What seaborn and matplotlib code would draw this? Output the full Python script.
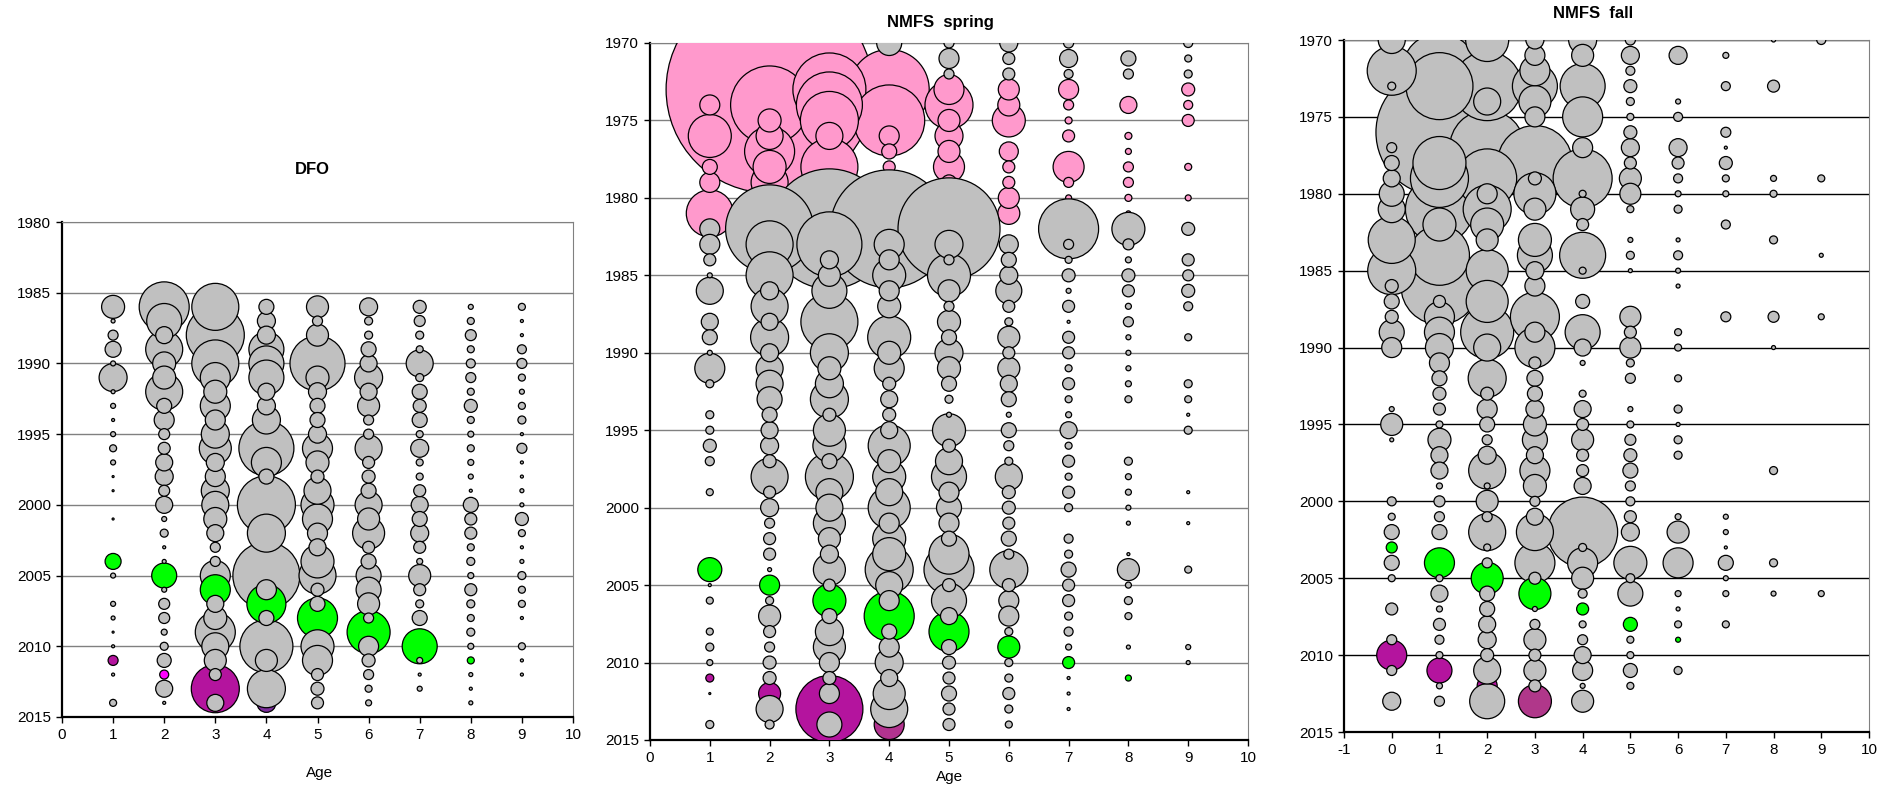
import numpy as np
import pandas as pd
import matplotlib
matplotlib.use("Agg")
import matplotlib.pyplot as plt
import seaborn as sns

# --------------------------------------------------
# Data: abundance index per age (bubble width), one value per survey year
# --------------------------------------------------

dfo_years = list(range(1986, 2015))
dfo_index = {
    1: [23, 4, 10, 16, 5, 28, 4, 5, 3, 5, 7, 5, 2, 2, 0, 2, 0, 0, 16, 5, 0, 5, 4, 2, 3, 10, 3, 0, 7],
    2: [50, 35, 17, 37, 23, 23, 37, 15, 20, 11, 12, 17, 18, 11, 17, 5, 8, 3, 4, 25, 5, 11, 11, 6, 8, 14, 9, 17, 3],
    3: [47, 0, 58, 0, 47, 30, 23, 30, 20, 28, 32, 18, 20, 28, 27, 23, 17, 10, 10, 30, 30, 17, 23, 40, 27, 22, 12, 48, 17],
    4: [15, 18, 18, 35, 35, 35, 17, 18, 28, 0, 55, 30, 15, 0, 58, 0, 38, 0, 0, 67, 20, 39, 15, 0, 53, 22, 0, 38, 19],
    5: [22, 10, 22, 0, 55, 23, 18, 15, 15, 18, 30, 23, 13, 27, 33, 30, 20, 17, 33, 37, 13, 15, 40, 0, 33, 30, 12, 13, 12],
    6: [18, 8, 8, 15, 17, 28, 17, 22, 10, 10, 27, 12, 13, 15, 27, 22, 32, 12, 15, 25, 25, 22, 10, 43, 20, 13, 10, 7, 6],
    7: [13, 11, 8, 7, 27, 8, 15, 13, 15, 7, 18, 7, 7, 12, 17, 15, 18, 12, 6, 22, 12, 8, 15, 0, 35, 6, 3, 5, 0],
    8: [5, 7, 11, 7, 9, 10, 7, 13, 7, 6, 7, 6, 5, 3, 15, 12, 12, 7, 8, 6, 12, 8, 7, 8, 6, 7, 4, 3, 4],
    9: [7, 3, 3, 9, 10, 7, 5, 7, 8, 3, 10, 3, 3, 4, 4, 13, 7, 3, 4, 8, 7, 7, 3, 0, 7, 3, 3, 0, 0],
}

spring_years = list(range(1970, 2015))
spring_index = {
    1: [0, 0, 0, 0, 20, 0, 43, 0, 15, 20, 0, 47, 20, 20, 12, 5, 27, 0, 17, 15,
        5, 30, 8, 0, 8, 8, 13, 9, 0, 7, 0, 0, 0, 0, 24, 3, 7, 0, 7, 8, 6, 8, 2, 0, 8],
    2: [0, 0, 0, 207, 78, 23, 27, 50, 33, 37, 0, 0, 88, 47, 0, 47, 18, 37, 17, 38,
        18, 27, 27, 25, 15, 17, 18, 13, 37, 12, 18, 10, 12, 12, 4, 20, 8, 22, 12, 10, 13, 13, 22, 27, 9],
    3: [0, 0, 0, 73, 66, 58, 27, 0, 57, 0, 0, 0, 120, 65, 18, 22, 35, 0, 57, 0,
        38, 23, 28, 38, 13, 32, 33, 15, 48, 27, 27, 32, 22, 18, 32, 12, 33, 15, 28, 32, 20, 13, 20, 67, 25],
    4: [25, 0, 0, 80, 0, 71, 20, 15, 12, 10, 0, 0, 118, 30, 20, 33, 20, 23, 0, 43,
        23, 30, 13, 17, 13, 17, 42, 23, 33, 27, 42, 20, 33, 33, 48, 27, 20, 50, 15, 20, 28, 17, 32, 37, 30],
    5: [10, 20, 10, 30, 48, 22, 28, 22, 31, 15, 15, 10, 102, 28, 10, 43, 22, 10, 23, 15,
        28, 23, 15, 8, 5, 33, 13, 27, 35, 20, 25, 20, 15, 40, 50, 13, 35, 17, 40, 15, 13, 12, 15, 12, 12],
    6: [18, 12, 12, 21, 22, 33, 0, 19, 12, 12, 21, 22, 0, 19, 15, 18, 26, 12, 8, 22,
        12, 22, 17, 15, 5, 15, 10, 8, 27, 13, 13, 12, 15, 10, 38, 13, 20, 20, 8, 22, 8, 8, 12, 8, 7],
    7: [10, 18, 9, 20, 10, 7, 12, 0, 31, 10, 6, 0, 60, 10, 7, 13, 5, 12, 3, 12,
        12, 7, 12, 7, 6, 17, 7, 12, 7, 12, 8, 0, 9, 8, 15, 12, 12, 8, 9, 6, 12, 3, 3, 3, 0],
    8: [0, 15, 10, 0, 17, 0, 7, 6, 10, 10, 7, 5, 33, 11, 6, 13, 12, 6, 10, 5,
        5, 5, 6, 7, 0, 0, 0, 8, 6, 6, 5, 4, 0, 3, 22, 6, 8, 7, 0, 4, 0, 6, 0, 0, 0],
    9: [9, 7, 8, 13, 9, 12, 0, 0, 7, 0, 6, 0, 13, 0, 12, 11, 13, 9, 0, 7,
        0, 0, 8, 7, 3, 8, 0, 0, 0, 3, 0, 3, 0, 0, 7, 0, 0, 0, 0, 5, 4, 0, 0, 0, 0],
}

fall_years = list(range(1970, 2015))
fall_index = {
    0: [27, 0, 49, 8, 0, 0, 0, 10, 15, 17, 25, 27, 0, 47, 0, 48, 13, 15, 13, 25,
        20, 0, 0, 0, 5, 22, 4, 0, 0, 0, 9, 7, 15, 11, 15, 7, 0, 12, 0, 10, 30, 10, 0, 18, 0],
    1: [0, 0, 75, 67, 0, 0, 127, 0, 53, 58, 0, 68, 33, 0, 60, 0, 77, 12, 30, 30,
        28, 20, 15, 13, 12, 7, 23, 17, 17, 6, 11, 10, 15, 0, 30, 7, 17, 6, 12, 9, 7, 25, 6, 10, 0],
    2: [43, 0, 0, 69, 27, 0, 0, 75, 0, 59, 20, 48, 33, 22, 0, 42, 0, 42, 0, 53,
        27, 0, 38, 13, 20, 15, 10, 18, 37, 6, 22, 10, 37, 7, 10, 32, 15, 15, 17, 18, 13, 27, 20, 35, 0],
    3: [18, 20, 30, 45, 32, 20, 0, 0, 75, 13, 42, 22, 0, 33, 35, 18, 20, 0, 49, 20,
        40, 12, 16, 15, 18, 23, 25, 17, 30, 23, 10, 17, 37, 0, 40, 12, 32, 5, 10, 22, 12, 22, 12, 33, 0],
    4: [28, 22, 0, 45, 0, 40, 0, 20, 0, 59, 7, 24, 12, 0, 46, 7, 0, 14, 0, 35,
        17, 5, 0, 7, 17, 12, 22, 12, 12, 17, 0, 0, 70, 8, 30, 22, 9, 12, 7, 10, 17, 20, 5, 22, 0],
    5: [10, 18, 9, 13, 8, 7, 13, 18, 12, 22, 21, 7, 0, 5, 8, 4, 0, 0, 21, 12,
        21, 8, 10, 0, 5, 7, 11, 13, 15, 10, 9, 12, 18, 0, 33, 9, 25, 0, 14, 7, 7, 14, 7, 0, 0],
    6: [0, 18, 0, 0, 5, 9, 0, 18, 12, 9, 6, 8, 0, 4, 9, 5, 4, 0, 0, 7,
        7, 0, 7, 0, 8, 4, 8, 8, 0, 0, 0, 6, 22, 0, 30, 0, 6, 4, 7, 5, 0, 8, 0, 0, 0],
    7: [0, 6, 0, 9, 0, 0, 10, 3, 13, 7, 6, 0, 9, 0, 0, 0, 0, 0, 10, 0,
        0, 0, 0, 0, 0, 0, 0, 0, 0, 0, 0, 5, 5, 3, 15, 5, 6, 0, 7, 0, 0, 0, 0, 0, 0],
    8: [4, 0, 0, 12, 0, 0, 0, 0, 0, 6, 7, 0, 0, 8, 0, 0, 0, 0, 11, 0,
        4, 0, 0, 0, 0, 0, 0, 0, 8, 0, 0, 0, 0, 0, 8, 0, 5, 0, 0, 0, 0, 0, 0, 0, 0],
    9: [9, 0, 0, 0, 0, 0, 0, 0, 0, 7, 0, 0, 0, 0, 4, 0, 0, 0, 6, 0,
        0, 0, 0, 0, 0, 0, 0, 0, 0, 0, 0, 0, 0, 0, 0, 0, 6, 0, 0, 0, 0, 0, 0, 0, 0],
}

# highlighted year classes and the early spring period
green_year_class = 2003
purple_year_class = 2010
spring_pink_years = (1973, 1981)

GRAY = "#C0C0C0"
GREEN = "#00FF00"
PURPLE = "#B4149E"
PINK = "#FF99CC"
special_colours = {
    ("DFO", 2, 2012): "#FF00FF",
    ("DFO", 4, 2014): "#7B2C9B",
    ("DFO", 9, 2012): GRAY,
    ("NMFS spring", 4, 2014): "#B2338F",
    ("NMFS fall", 3, 2013): "#B0378A",
}


def bubble_colour(panel, age, year):
    if (panel, age, year) in special_colours:
        return special_colours[(panel, age, year)]
    if year - age == green_year_class:
        return GREEN
    if year - age == purple_year_class:
        return PURPLE
    if panel == "NMFS spring" and spring_pink_years[0] <= year <= spring_pink_years[1]:
        return PINK
    return GRAY


def draw_group(colour):
    # series order: pink period, then the 2010 year class, then the rest
    if colour == PINK:
        return 0
    if colour in (GRAY, GREEN):
        return 2
    return 1


# --------------------------------------------------
# Figure layout (pixel boxes of the three plot areas)
# --------------------------------------------------
W, H = 1882, 788
plt.rcParams["font.family"] = ["Liberation Sans", "DejaVu Sans"]
plt.rcParams["axes.unicode_minus"] = False

fig = plt.figure(figsize=(W / 100, H / 100), dpi=100)

PX_TO_PT = 72 / 100


def add_axes_px(left, right, top, bottom):
    return fig.add_axes([left / W, 1 - bottom / H, (right - left) / W, (bottom - top) / H])


def draw_panel(ax, name, years, index_by_age, ylim, xticks, grid_colour):
    rows = []
    for age, vals in index_by_age.items():
        for yr, v in zip(years, vals):
            if v > 0:
                c = bubble_colour(name, age, yr)
                rows.append((age, yr, v, c, draw_group(c)))
    df = pd.DataFrame(rows, columns=["age", "year", "index", "colour", "group"])
    # within a series the largest bubbles go first so small ones stay visible
    df = df.sort_values(["group", "index"], ascending=[True, False], kind="stable").reset_index(drop=True)
    df["area"] = (df["index"] * PX_TO_PT) ** 2
    amin, amax = df["area"].min(), df["area"].max()

    sns.scatterplot(
        data=df, x="age", y="year",
        hue="colour", palette={c: c for c in df["colour"].unique()},
        size="area", sizes=(amin, amax), size_norm=(amin, amax),
        edgecolor="black", linewidth=0.9, legend=False, ax=ax, zorder=3,
    )

    ax.set_xlim(xticks[0], xticks[-1])
    ax.set_ylim(ylim[1], ylim[0])
    ax.set_xticks(xticks)
    ax.set_yticks(range(ylim[0], ylim[1] + 1, 5))
    ax.set_xlabel("")
    ax.set_ylabel("")
    ax.set_axisbelow(True)
    ax.yaxis.grid(True, color=grid_colour, linewidth=1.0)
    ax.xaxis.grid(False)
    for side in ["left", "bottom"]:
        ax.spines[side].set_color("black")
        ax.spines[side].set_linewidth(1.6)
    for side in ["top", "right"]:
        ax.spines[side].set_color("#808080")
        ax.spines[side].set_linewidth(0.8)
    ax.tick_params(axis="both", direction="out", length=4, width=1,
                   labelsize=11, pad=4, colors="black")
    ax.set_facecolor("white")


ax_dfo = add_axes_px(62, 573, 222, 717)
draw_panel(ax_dfo, "DFO", dfo_years, dfo_index, (1980, 2015), list(range(0, 11)), "#808080")

ax_spr = add_axes_px(650, 1248, 43, 740)
draw_panel(ax_spr, "NMFS spring", spring_years, spring_index, (1970, 2015), list(range(0, 11)), "#808080")

ax_fall = add_axes_px(1344, 1869, 40, 732)
draw_panel(ax_fall, "NMFS fall", fall_years, fall_index, (1970, 2015), list(range(-1, 11)), "black")

# titles and axis labels
title_kw = dict(ha="center", va="center", fontsize=12, fontweight="bold")
fig.text(312 / W, 1 - 170 / H, "DFO", **title_kw)
fig.text(940 / W, 1 - 23 / H, "NMFS  spring", **title_kw)
fig.text(1593 / W, 1 - 14 / H, "NMFS  fall", **title_kw)

fig.text(320 / W, 1 - 773 / H, "Age", ha="center", va="center", fontsize=11)
fig.text(950 / W, 1 - 777 / H, "Age", ha="center", va="center", fontsize=11)

fig.savefig("out.png", dpi=100, facecolor="white")
